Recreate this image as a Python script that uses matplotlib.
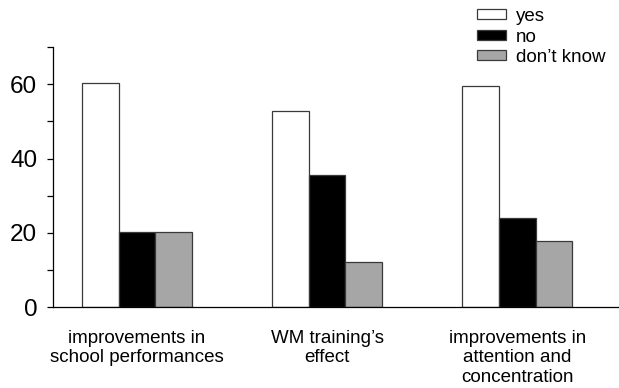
import matplotlib
matplotlib.use("Agg")
import matplotlib.pyplot as plt
import numpy as np

plt.rcParams['font.family'] = ['Liberation Sans', 'DejaVu Sans']

categories = ["improvements in\nschool performances", "WM training\u2019s\neffect",
              "improvements in\nattention and\nconcentration"]
series_names = ["yes", "no", "don\u2019t know"]
yes_vals = [60.4, 52.8, 59.5]
no_vals = [20.3, 35.5, 23.9]
dk_vals = [20.3, 12.2, 17.9]
yticks_major = [0, 20, 40, 60]

fig = plt.figure(figsize=(6.19, 3.88), dpi=100)
ax = fig.add_axes([0.0861, 0.208, 0.9139, 0.671])

x = np.arange(len(categories))
w = 0.193
colors = ["white", "black", "#a6a6a6"]
edge = "#3a3a3a"
for i, (vals, name, c) in enumerate(zip([yes_vals, no_vals, dk_vals], series_names, colors)):
    ax.bar(x + (i - 1) * w, vals, width=w, color=c, edgecolor=edge, linewidth=0.9, label=name)

ax.set_xlim(-0.44, 2.535)
ax.set_ylim(0, 70)
ax.set_yticks(yticks_major)
ax.set_yticklabels([str(v) for v in yticks_major], fontsize=17.5)
ax.set_yticks([10, 30, 50, 70], minor=True)
ax.tick_params(axis='y', which='both', direction='out', length=4, width=0.9, pad=7.5)
ax.set_xticks(x)
ax.set_xticklabels(categories, fontsize=13.5, linespacing=1.22)
ax.tick_params(axis='x', length=0, pad=16)
for s in ['top', 'right']:
    ax.spines[s].set_visible(False)
ax.spines['left'].set_linewidth(0.9)
ax.spines['bottom'].set_linewidth(0.9)

leg = fig.legend(loc='upper left', bbox_to_anchor=(0.770, 1.0 - 8 / 388), frameon=False, fontsize=13.5,
                 handlelength=1.55, handleheight=0.45, handletextpad=0.55, labelspacing=0.19,
                 borderaxespad=0.0, borderpad=0.0)

fig.savefig("out.png", dpi=100)
